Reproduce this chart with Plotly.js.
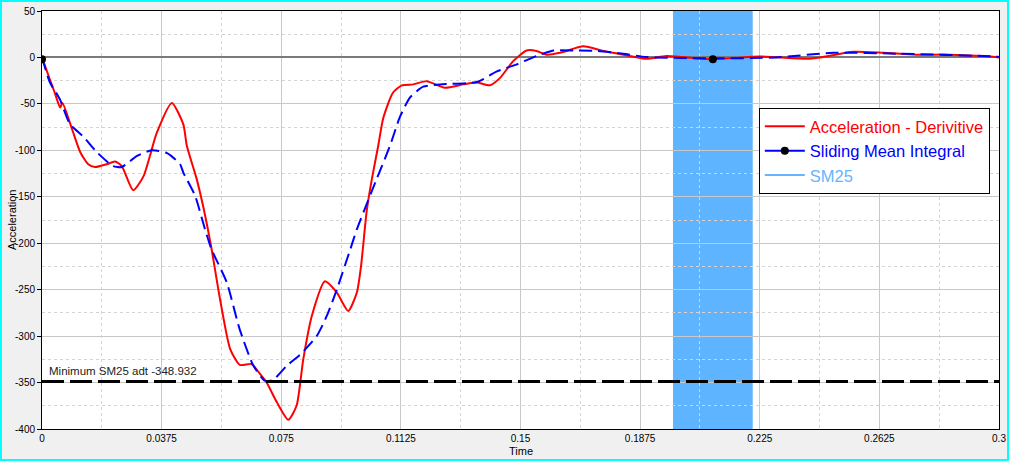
<!DOCTYPE html>
<html>
<head>
<meta charset="utf-8">
<script src="https://cdn.plot.ly/plotly-3.0.1.min.js"></script>
<style>
html,body{margin:0;padding:0;background:#f0f0f0;}
#wrap{position:relative;width:1009px;height:461px;}
#chart{width:1009px;height:461px;}
#frame{position:absolute;left:0;top:0;width:1009px;height:461px;box-sizing:border-box;border:2px solid #00ffff;pointer-events:none;}
</style>
</head>
<body>
<div id="wrap"><div id="chart"></div><div id="frame"></div></div>
<script>
// Acceleration - Derivitive
const accX = [0, 0.0025, 0.004, 0.0057, 0.0064, 0.0094, 0.012, 0.0145, 0.0166, 0.0203, 0.0229, 0.025, 0.0286, 0.0318, 0.036, 0.0407, 0.0443, 0.0454, 0.0485, 0.0505, 0.052, 0.0532, 0.0558, 0.059, 0.062, 0.0657, 0.0677, 0.0704, 0.0736, 0.0772, 0.0798, 0.0819, 0.0846, 0.0887, 0.0924, 0.096, 0.0987, 0.1000, 0.1018, 0.1034, 0.1054, 0.107, 0.110, 0.1128, 0.1164, 0.1206, 0.1263, 0.1321, 0.1363, 0.1404, 0.1436, 0.1477, 0.1519, 0.155, 0.1582, 0.1624, 0.1697, 0.176, 0.1822, 0.1895, 0.1958, 0.2103, 0.225, 0.2397, 0.244, 0.2543, 0.2637, 0.274, 0.2846, 0.299, 0.3];
const accY = [0, -24, -38, -54, -49, -77, -102, -115, -118, -115, -112, -117, -143, -128, -81, -49, -72, -95, -131, -160, -185, -207, -260, -314, -331, -330, -338, -350, -371, -390, -375, -325, -278, -241, -253, -273, -253, -225, -165, -131, -95, -65, -38, -30, -29, -25.5, -32.6, -29, -27, -30, -22, -4, 7.5, 7, 3, 5, 12, 7, 3, -1.5, 1.5, -2, 1, -1.5, 0, 6, 5, 3, 3, 0.5, 0];

// Sliding Mean Integral
const smiX = [0, 0.0025, 0.0056, 0.0088, 0.0129, 0.0172, 0.0223, 0.025, 0.0298, 0.0344, 0.0392, 0.0433, 0.0443, 0.048, 0.0511, 0.0532, 0.0579, 0.062, 0.0663, 0.0699, 0.0725, 0.0767, 0.0809, 0.0861, 0.0893, 0.0924, 0.0966, 0.0987, 0.1049, 0.1091, 0.1122, 0.1154, 0.1195, 0.1248, 0.1363, 0.1426, 0.1488, 0.155, 0.1603, 0.1676, 0.1739, 0.1822, 0.1895, 0.2103, 0.23, 0.248, 0.269, 0.299, 0.3];
const smiY = [0, -27, -45, -72, -85, -102, -117, -118, -106, -100, -103, -115, -124, -149, -185, -207, -242, -293, -332, -348, -347, -332, -320, -300, -278, -250, -207, -185, -131, -95, -64, -43, -31.5, -29, -26.5, -15, -7.5, 1.5, 7.5, 7.5, 7, 4, 0.5, -1, 0, 5, 4, 1, 0.5];

// Markers on Sliding Mean Integral
const dotX = [0, 0.2103];
const dotY = [-2, -2];

// SM25 window and minimum
const sm25Start = 0.1978;
const sm25End = 0.2228;
const sm25Min = -348.932;

const xTicks = [0, 0.0375, 0.075, 0.1125, 0.15, 0.1875, 0.225, 0.2625, 0.3];
const xTickText = ['0', '0.0375', '0.075', '0.1125', '0.15', '0.1875', '0.225', '0.2625', '0.3'];
const yTicks = [50, 0, -50, -100, -150, -200, -250, -300, -350, -400];
const yTickText = ['50', '0', '-50', '-100', '-150', '-200', '-250', '-300', '-350', '-400'];

const font = 'Arial, "Liberation Sans", sans-serif';

const traces = [
  {x: accX, y: accY, type: 'scatter', mode: 'lines', line: {color: '#ff0000', width: 2, shape: 'spline', smoothing: 0.6}, showlegend: false, hoverinfo: 'skip'},
  {x: smiX, y: smiY, type: 'scatter', mode: 'lines', line: {color: '#0000ff', width: 2, dash: '13px,6px', shape: 'spline', smoothing: 0.6}, showlegend: false, hoverinfo: 'skip'},
  {x: dotX, y: dotY, type: 'scatter', mode: 'markers', marker: {color: '#000000', size: 8}, showlegend: false, hoverinfo: 'skip'},
  {x: [null], y: [null], type: 'scatter', mode: 'lines', line: {color: '#ff0000', width: 2}, name: '<span style="color:#ff0000">Acceleration - Derivitive</span>'},
  {x: [null], y: [null], type: 'scatter', mode: 'lines+markers', line: {color: '#0000ff', width: 2}, marker: {color: '#000000', size: 8}, name: '<span style="color:#0000ff">Sliding Mean Integral</span>'},
  {x: [null], y: [null], type: 'scatter', mode: 'lines', line: {color: '#66b3ff', width: 2}, name: '<span style="color:#66b3ff">SM25</span>'}
];

const layout = {
  width: 1009, height: 461,
  margin: {l: 42, r: 10, t: 11, b: 32, pad: 0},
  paper_bgcolor: '#f0f0f0',
  plot_bgcolor: '#ffffff',
  font: {family: font, size: 10, color: '#000'},
  showlegend: true,
  legend: {x: 0.749, y: 0.768, xanchor: 'left', yanchor: 'top', bgcolor: '#ffffff', bordercolor: '#000000', borderwidth: 1, font: {family: font, size: 16.5}, tracegroupgap: 0, itemwidth: 40},
  xaxis: {
    range: [0, 0.3], tickvals: xTicks, ticktext: xTickText, ticks: '',
    showline: true, linecolor: '#000', linewidth: 1, mirror: true,
    showgrid: true, gridcolor: '#c8c8c8', gridwidth: 1, zeroline: false,
    minor: {dtick: 0.01875, tick0: 0, showgrid: true, gridcolor: '#d4d4d4', griddash: 'dot', gridwidth: 1},
    tickfont: {size: 10, family: font}
  },
  yaxis: {
    range: [-400, 50], tickvals: yTicks, ticktext: yTickText, ticks: 'outside', ticklen: 4, tickcolor: '#000',
    showline: true, linecolor: '#000', linewidth: 1, mirror: true,
    showgrid: true, gridcolor: '#c8c8c8', gridwidth: 1,
    zeroline: true, zerolinecolor: '#7a7a7a', zerolinewidth: 2,
    minor: {dtick: 25, tick0: 0, showgrid: true, gridcolor: '#d4d4d4', griddash: 'dot', gridwidth: 1},
    tickfont: {size: 10, family: font}
  },
  shapes: [
    {type: 'rect', xref: 'x', yref: 'paper', x0: sm25Start, x1: sm25End, y0: 0, y1: 1, fillcolor: '#5fb4ff', line: {width: 0}, layer: 'between'},
    {type: 'line', xref: 'paper', yref: 'y', x0: 0, x1: 1, y0: sm25Min, y1: sm25Min, line: {color: '#000000', width: 3, dash: '22px,6px'}, layer: 'above'}
  ],
  annotations: [
    {text: 'Minimum SM25 adt ' + sm25Min, xref: 'paper', yref: 'y', x: 0.005, y: sm25Min, xanchor: 'left', yanchor: 'bottom', yshift: 3, showarrow: false, font: {family: font, size: 11.5, color: '#222'}},
    {text: 'Time', xref: 'paper', yref: 'paper', x: 0.5, y: -0.0526, xanchor: 'center', yanchor: 'middle', showarrow: false, font: {family: font, size: 11, color: '#000'}},
    {text: 'Acceleration', xref: 'paper', yref: 'paper', x: -0.0313, y: 0.5, textangle: -90, xanchor: 'center', yanchor: 'middle', showarrow: false, font: {family: font, size: 11, color: '#000'}}
  ]
};

Plotly.newPlot('chart', traces, layout, {staticPlot: true, displayModeBar: false});
</script>
</body>
</html>
